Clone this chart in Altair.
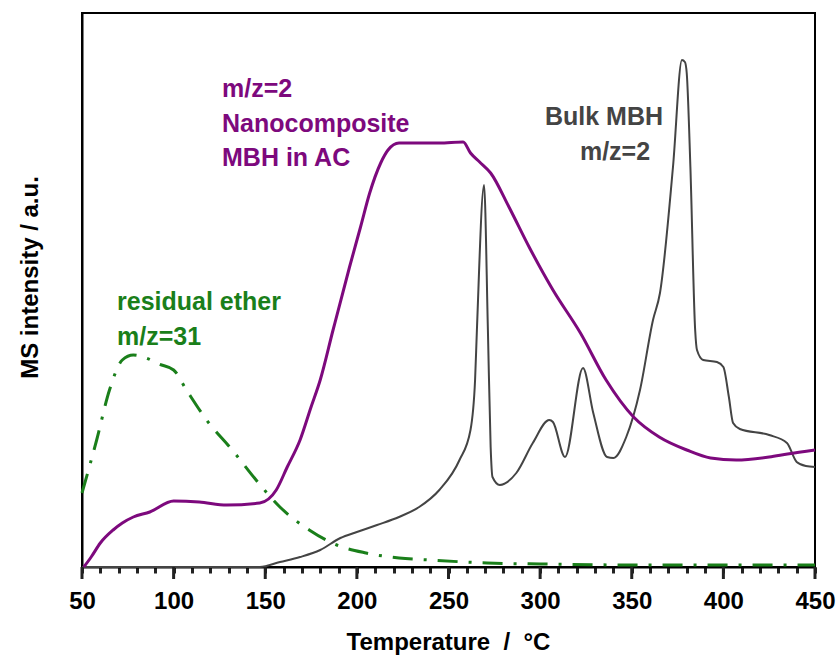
import altair as alt
import pandas as pd

# Nanocomposite MBH in AC, m/z=2 (purple)
nano_T = [51, 55, 60, 67, 72, 78, 87, 100, 114, 129, 147, 156, 162, 169, 175, 180, 187, 196, 202, 207,
          213, 217, 223, 233, 245, 258, 262, 267, 273, 283, 294, 307, 322, 336, 351, 365, 380, 393, 407,
          425, 435, 450]
nano_v = [0, 10, 24, 37, 44, 50, 55, 66, 65, 62, 64, 77, 100, 127, 160, 187, 237, 300, 340, 374,
          404, 417, 424, 424, 424, 425, 414, 405, 394, 360, 320, 277, 234, 187, 150, 130, 117, 109, 107,
          110, 113, 117]

# Bulk MBH, m/z=2 (grey)
bulk_T = [50, 147, 158, 169, 180, 191, 200, 211, 223, 234, 245, 256, 262, 264.5, 265.5, 269.4, 271.5,
          273, 274, 278, 287, 296, 305, 307, 313.6, 323.4, 329, 336.5, 340, 347, 354.5, 361.6, 365.4,
          372.5, 377.4, 379, 380, 382, 384.6, 385.6, 389, 396.5, 400, 403, 405.3, 409, 425, 434.7, 440,
          445, 450]
bulk_v = [0, 0, 5, 10, 17, 29, 35, 42, 50, 60, 77, 107, 137, 187, 237, 382, 237,
          120, 90, 82, 94, 124, 147, 145, 110, 199, 154, 110, 109, 130, 177, 247, 274,
          400, 507, 505, 494, 400, 237, 217, 207, 205, 200, 170, 144, 138, 132, 124, 105,
          101, 100]

# residual ether, m/z=31 (green)
ether_T = [50, 58, 65, 72, 78, 85, 92, 100, 107, 118, 132, 145, 158, 174, 189, 205, 223, 240, 271,
           300, 350, 400, 450]
ether_v = [74, 127, 177, 207, 212, 209, 203, 197, 177, 147, 117, 87, 60, 37, 22, 14, 9, 7, 4,
           3, 2, 2, 2]

minor_ticks = list(range(50, 451, 10))
major_ticks = [50, 100, 150, 200, 250, 300, 350, 400, 450]

FONT = "Liberation Sans"
PURPLE = "#7d097d"
GREY = "#444444"
GREEN = "#1a7f1a"
TICK = "#222222"

xscale = alt.Scale(domain=[50, 450], nice=False, zero=False)
yscale = alt.Scale(domain=[0, 554], nice=False, zero=False)

xaxis = alt.Axis(
    values=minor_ticks,
    labelExpr="datum.value % 50 === 0 ? datum.label : ''",
    ticks=True, tickSize=6, tickColor=TICK, tickWidth=3,
    domainColor="black", domainWidth=2, grid=False,
    labelFont=FONT, labelFontSize=24, labelFontWeight="bold", labelColor="black",
    labelPadding=16, labelFlush=False, labelOverlap=False,
    title="Temperature \u00a0/\u00a0 °C",
    titleFont=FONT, titleFontSize=24, titleFontWeight="bold", titleColor="black",
    titleX=366, titleY=82, titleAlign="center", titleBaseline="alphabetic",
)
yaxis = alt.Axis(
    labels=False, ticks=False, grid=False,
    domainColor="black", domainWidth=2,
    title="MS intensity / a.u.",
    titleFont=FONT, titleFontSize=24, titleFontWeight="bold", titleColor="black",
    titleAngle=270, titleX=-52, titleY=264, titleAlign="center", titleBaseline="middle",
)


def line(T, v, color, width, dash=None):
    df = pd.DataFrame({"T": T, "v": v})
    kw = dict(color=color, strokeWidth=width, interpolate="monotone")
    if dash:
        kw["strokeDash"] = dash
    return alt.Chart(df).mark_line(**kw).encode(
        x=alt.X("T:Q", scale=xscale, axis=xaxis),
        y=alt.Y("v:Q", scale=yscale, axis=yaxis),
    )


def label(lines, x, y, color, align="left"):
    return alt.Chart(pd.DataFrame({"k": [0]})).mark_text(
        text=lines, align=align, baseline="alphabetic", lineHeight=34.5,
        font=FONT, fontSize=25, fontWeight="bold", color=color,
    ).encode(x=alt.value(x), y=alt.value(y))


major = alt.Chart(pd.DataFrame({"T": major_ticks})).mark_rule(
    color=TICK, strokeWidth=3
).encode(
    x=alt.X("T:Q", scale=xscale, axis=xaxis),
    y=alt.value(554), y2=alt.value(566),
)

chart = alt.layer(
    line(ether_T, ether_v, GREEN, 3, [20, 11, 3, 11]),
    line(bulk_T, bulk_v, GREY, 2),
    line(nano_T, nano_v, PURPLE, 3),
    major,
    label(["m/z=2", "Nanocomposite", "MBH in AC"], 140, 84, PURPLE),
    label(["Bulk MBH"], 522, 112, GREY, "center"),
    label(["m/z=2"], 533, 147, GREY, "center"),
    label(["residual ether", "m/z=31"], 35, 297, GREEN),
).properties(
    width=733, height=554,
    autosize=alt.AutoSizeParams(type="none"),
    padding={"left": 82, "top": 13, "right": 25, "bottom": 89},
    background="white",
).configure_view(stroke="black", strokeWidth=2)

chart.save("out.html", embed_options={"renderer": "svg", "actions": False})
